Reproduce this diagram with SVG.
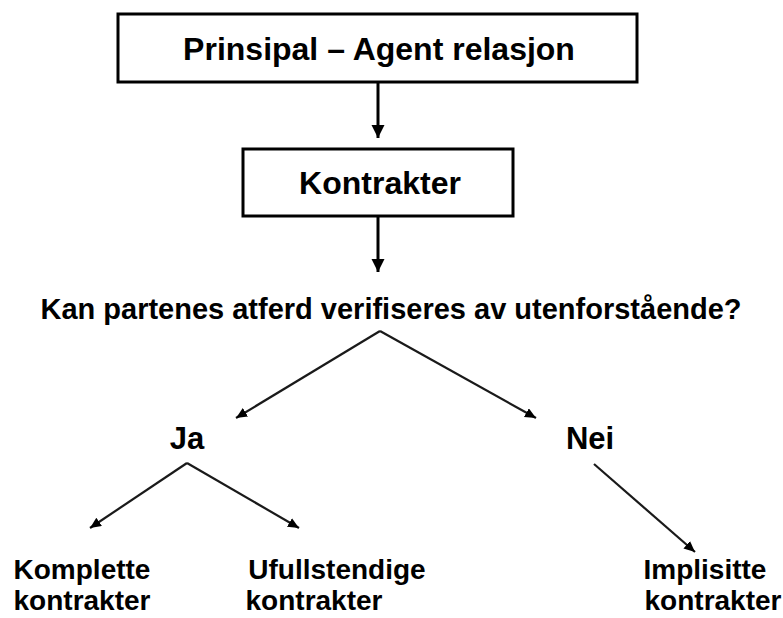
<svg xmlns="http://www.w3.org/2000/svg" width="783" height="618" viewBox="0 0 783 618">
<style>
.box{fill:#fff;stroke:#000;stroke-width:3}
.t{font-family:"Liberation Sans",Arial,sans-serif;font-weight:bold;fill:#000;text-anchor:middle}
.v{stroke:#000;stroke-width:3;fill:none}
.d{stroke:#1a1a1a;stroke-width:2.2;fill:none}
</style>
<defs>
<marker id="ahV" markerUnits="userSpaceOnUse" markerWidth="14" markerHeight="14" refX="13" refY="6.5" orient="auto">
<path d="M0,0 L13,6.5 L0,13 z" fill="#000"/>
</marker>
<marker id="ahD" markerUnits="userSpaceOnUse" markerWidth="12" markerHeight="12" refX="11" refY="5" orient="auto">
<path d="M0,0 L11,5 L0,10 z" fill="#000"/>
</marker>
</defs>
<g id="connectors">
<line class="v" x1="378" y1="82" x2="378" y2="138" marker-end="url(#ahV)"/>
<line class="v" x1="378" y1="216" x2="378" y2="272" marker-end="url(#ahV)"/>
<line class="d" x1="380" y1="331" x2="236" y2="418" marker-end="url(#ahD)"/>
<line class="d" x1="380" y1="331" x2="536" y2="418" marker-end="url(#ahD)"/>
<line class="d" x1="187" y1="463" x2="90" y2="528" marker-end="url(#ahD)"/>
<line class="d" x1="187" y1="463" x2="299" y2="528" marker-end="url(#ahD)"/>
<line class="d" x1="594" y1="464" x2="695" y2="552" marker-end="url(#ahD)"/>
</g>
<g id="n-prinsipal">
<rect class="box" x="118" y="14" width="519" height="68"/>
<text class="t" x="379" y="60" font-size="32">Prinsipal – Agent relasjon</text>
</g>
<g id="n-kontrakter">
<rect class="box" x="243" y="149" width="270" height="67"/>
<text class="t" x="380" y="194" font-size="32">Kontrakter</text>
</g>
<g id="n-question">
<text class="t" x="391" y="319" font-size="29">Kan partenes atferd verifiseres av utenforstående?</text>
</g>
<g id="n-ja">
<text class="t" x="187" y="449" font-size="31">Ja</text>
</g>
<g id="n-nei">
<text class="t" x="590" y="449" font-size="31">Nei</text>
</g>
<g id="n-komplette">
<text class="t" x="82" y="579" font-size="28">Komplette</text>
<text class="t" x="82" y="610" font-size="28">kontrakter</text>
</g>
<g id="n-ufullstendige">
<text class="t" x="337" y="579" font-size="28">Ufullstendige</text>
<text class="t" x="314" y="610" font-size="28">kontrakter</text>
</g>
<g id="n-implisitte">
<text class="t" x="705" y="579" font-size="28">Implisitte</text>
<text class="t" x="713" y="610" font-size="28">kontrakter</text>
</g>
</svg>
